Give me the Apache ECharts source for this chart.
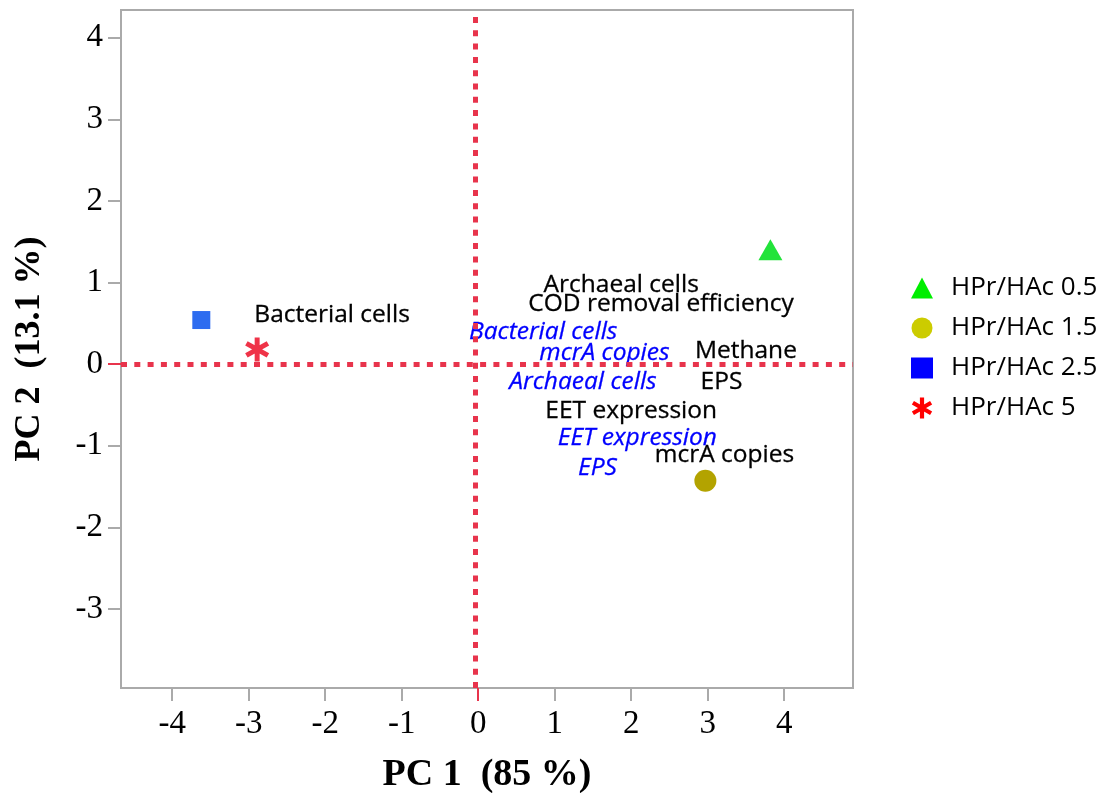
<!DOCTYPE html>
<html>
<head>
<meta charset="utf-8">
<script src="https://cdn.jsdelivr.net/npm/echarts@6/dist/echarts.min.js"></script>
<style>html,body{margin:0;padding:0;background:#fff}#c{width:1109px;height:793px}</style>
</head>
<body>
<div id="c"></div>
<script>
// ---- data ----
const groupNames = ['HPr/HAc 0.5', 'HPr/HAc 1.5', 'HPr/HAc 2.5', 'HPr/HAc 5'];
const scoreX = [3.82, 2.97, -3.62, -2.89];
const scoreY = [1.40, -1.43, 0.54, 0.18];
const xTicks = [-4, -3, -2, -1, 0, 1, 2, 3, 4];
const yTicks = [-3, -2, -1, 0, 1, 2, 3, 4];
const originTick = [0];
// variable labels (black) : [x, y, name]
const blackLabels = [
  [-1.91, 0.60, 'Bacterial cells'],
  [1.87, 0.965, 'Archaeal cells'],
  [2.39, 0.735, 'COD removal efficiency'],
  [3.50, 0.155, 'Methane'],
  [3.18, -0.225, 'EPS'],
  [2.00, -0.575, 'EET expression'],
  [3.22, -1.115, 'mcrA copies']
];
// variable labels (blue italic)
const blueLabels = [
  [0.85, 0.395, 'Bacterial cells'],
  [1.65, 0.135, 'mcrA copies'],
  [1.37, -0.225, 'Archaeal cells'],
  [2.08, -0.905, 'EET expression'],
  [1.56, -1.275, 'EPS']
];

const ASTERISK = 'path://M-1,-5L1,-5L1,5L-1,5Z M4.83,1.634L3.83,3.366L-4.83,-1.634L-3.83,-3.366Z M-3.83,3.366L-4.83,1.634L3.83,-3.366L4.83,-1.634Z';
const symbols = ['triangle', 'circle', 'rect', ASTERISK];
const sizes = [[24, 21], 22, 18, [24, 24]];
const markerColors = ['#22e33a', '#b3a300', '#2d6cf0', '#ef3348'];
const legendColors = ['#00ee00', '#cccc00', '#0000ff', '#ff0000'];
const refRed = '#e8344c';

const chart = echarts.init(document.getElementById('c'));
const series = groupNames.map((n, i) => ({
  name: n,
  type: 'scatter',
  symbol: symbols[i],
  symbolSize: sizes[i],
  itemStyle: { color: markerColors[i], opacity: 1 },
  data: [[scoreX[i], scoreY[i]]],
  z: 5
}));

function labelSeries(arr, color, style) {
  return {
    type: 'scatter',
    symbolSize: 0,
    silent: true,
    itemStyle: { opacity: 1, color: color },
    data: arr.map(a => ({ value: [a[0], a[1]], name: a[2] })),
    label: {
      show: true, position: 'inside', formatter: p => p.name, opacity: 1,
      color: color, fontStyle: style, fontFamily: 'Open Sans', fontSize: 24.5,
      textBorderColor: color, textBorderWidth: 0.3
    },
    z: 4
  };
}
series.push(labelSeries(blackLabels, '#000000', 'normal'));
series.push(labelSeries(blueLabels, '#0000ff', 'italic'));
// reference lines
series.push({
  type: 'line', data: [], silent: true,
  markLine: {
    silent: true, symbol: 'none', label: { show: false },
    lineStyle: { color: refRed, width: 5, type: [6, 7.3], cap: 'butt', opacity: 1 },
    data: [{ xAxis: -0.04 }, { yAxis: 0 }]
  }
});

const serif = 'Liberation Serif';
function baseAxis(min, max, ticks, labelMargin) {
  return {
    type: 'value', min: min, max: max,
    axisLine: { show: true, onZero: false, lineStyle: { color: '#aaaaaa', width: 2 } },
    axisTick: { show: true, length: 13, lineStyle: { color: '#aaaaaa', width: 2 }, customValues: ticks },
    axisLabel: { fontFamily: serif, fontSize: 33, color: '#000', margin: labelMargin, customValues: ticks },
    splitLine: { show: false }
  };
}
function redTickAxis(min, max, pos) {
  return {
    type: 'value', min: min, max: max, position: pos,
    axisLine: { show: false, onZero: false },
    axisTick: { show: true, length: 13, lineStyle: { color: refRed, width: 2 }, customValues: originTick },
    axisLabel: { show: false },
    splitLine: { show: false }
  };
}
const xMain = Object.assign(baseAxis(-4.67, 4.9, xTicks, 20), {
  name: 'PC 1  (85 %)', nameLocation: 'middle', nameGap: 68,
  nameTextStyle: { fontFamily: serif, fontWeight: 'bold', fontSize: 38, color: '#000' }
});
const yMain = Object.assign(baseAxis(-3.97, 4.34, yTicks, 18), {
  name: 'PC 2  (13.1 %)', nameLocation: 'middle', nameGap: 73,
  nameTextStyle: { fontFamily: serif, fontWeight: 'bold', fontSize: 36, color: '#000' }
});

chart.setOption({
  animation: false,
  grid: { left: 121, top: 10, right: 256, bottom: 105, containLabel: false, outerBoundsMode: 'none',
          show: true, borderColor: '#aaaaaa', borderWidth: 2, backgroundColor: '#fff' },
  xAxis: [xMain, redTickAxis(-4.67, 4.9, 'bottom')],
  yAxis: [yMain, redTickAxis(-3.97, 4.34, 'left')],
  legend: {
    orient: 'vertical', left: 906, top: 270,
    itemWidth: 22, itemHeight: 21, itemGap: 14,
    textStyle: { fontFamily: 'Open Sans', fontSize: 26, color: '#000', padding: [0, 0, 0, 13] },
    data: groupNames.map((n, i) => ({ name: n, icon: symbols[i], itemStyle: { color: legendColors[i] } }))
  },
  series: series
});
</script>
</body>
</html>
